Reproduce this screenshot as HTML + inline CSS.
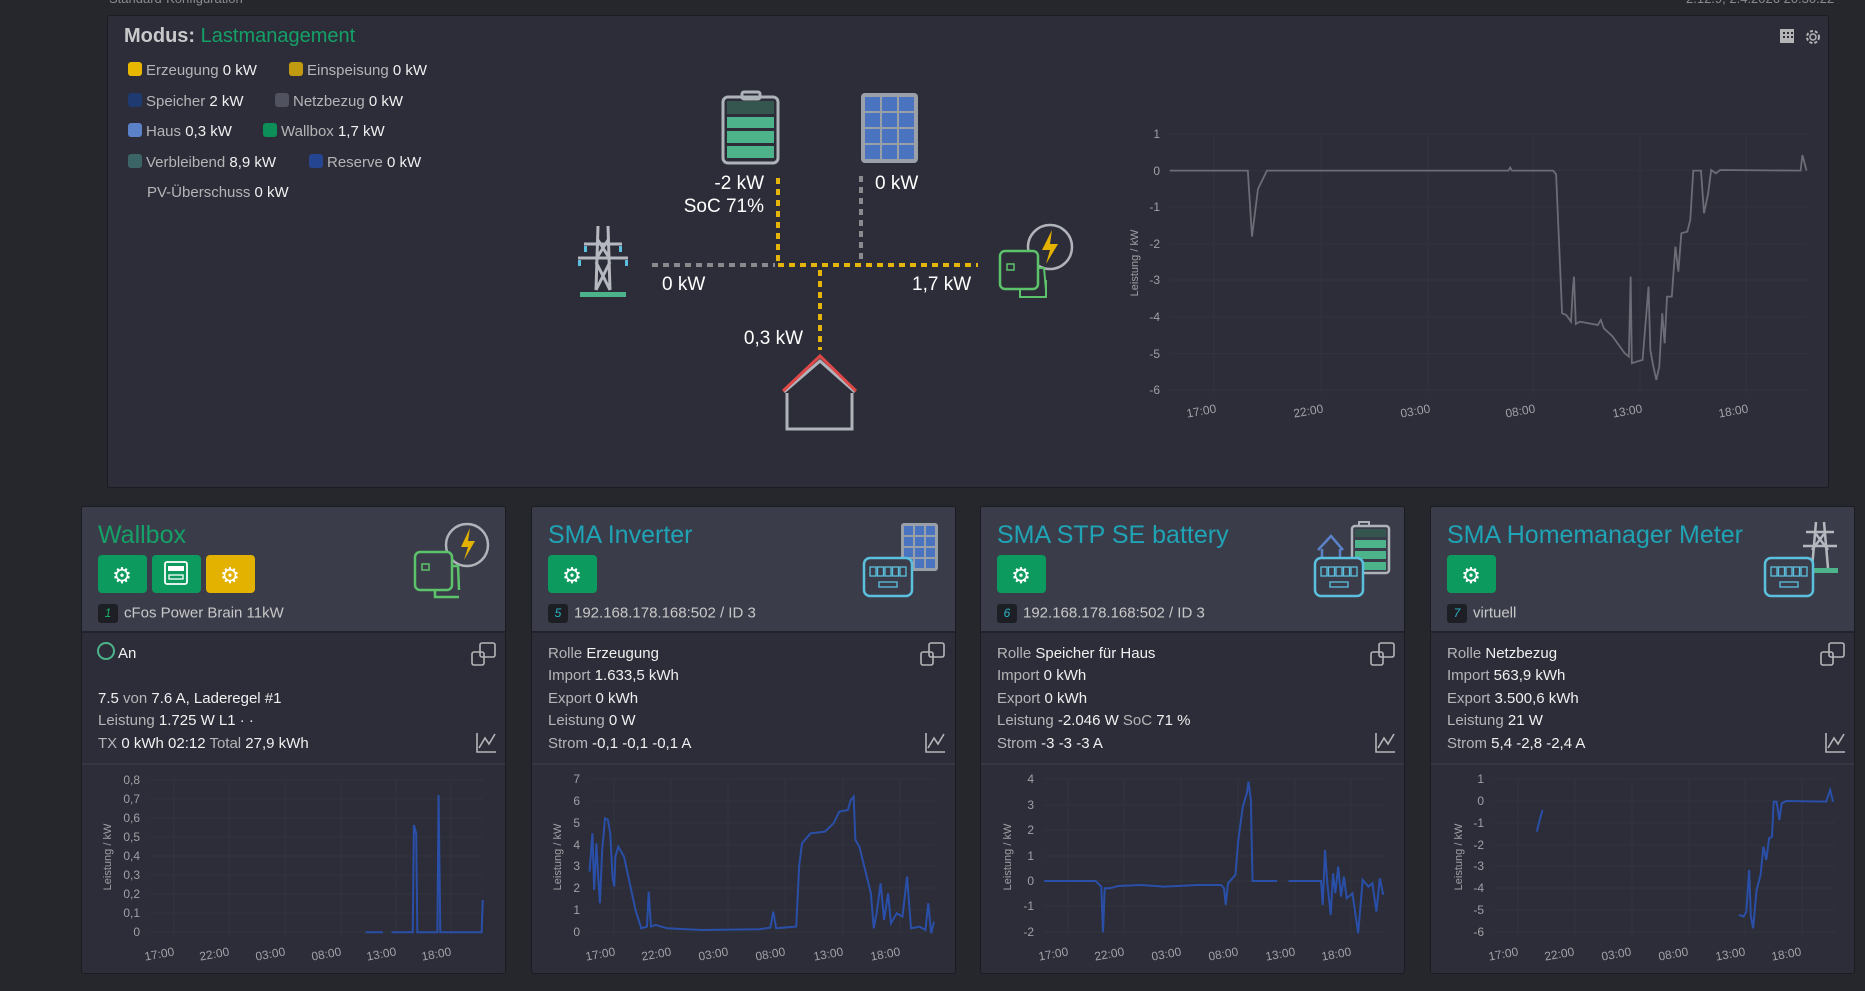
<!DOCTYPE html>
<html><head><meta charset="utf-8"><style>
*{margin:0;padding:0;box-sizing:border-box}
body{width:1865px;height:991px;background:#25272c;font-family:"Liberation Sans",sans-serif;position:relative;overflow:hidden;color:#e6e6e6}
.a{position:absolute;white-space:nowrap}
.panel{position:absolute;left:107px;top:15px;width:1722px;height:473px;background:#2c2d38;border:1px solid #1b1c21;border-radius:3px}
.card{position:absolute;top:506px;width:425px;height:468px;background:#2c2d38;border:1px solid #1b1c21;border-radius:3px;overflow:hidden}
.hd{position:absolute;left:0;top:0;width:100%;height:126px;background:#3a3d49;border-bottom:2px solid #22232a}
.sep{position:absolute;left:0;top:256px;width:100%;height:2px;background:#353743}
.tt{position:absolute;left:16px;top:14px;font-size:25px;color:#1fa3b5}
.btn{position:absolute;top:48px;width:49px;height:38px;border-radius:4px;background:#0d9a5f}
.dev{position:absolute;left:16px;top:97px;font-size:15px;color:#c8c8c8}
.bd{display:inline-block;width:20px;height:19px;background:#1d1f24;border-radius:3px;color:#2bb3c6;font-size:12px;text-align:center;line-height:19px;margin-right:6px;vertical-align:middle}
.row{position:absolute;left:16px;font-size:15px;color:#f0f0f0}
.row span{color:#b5b5b8}
.lg{position:absolute;font-size:15px;color:#f0f0f0}
.lg span{color:#b5b5b8}
.sq{display:inline-block;width:14px;height:14px;border-radius:3px;margin-right:4px;vertical-align:-1px}
</style></head><body>
<div class="a" style="left:109px;top:-9px;font-size:13px;color:#8a8a90">Standard-Konfiguration</div>
<div class="a" style="left:1686px;top:-9px;font-size:13px;color:#8a8a90">2.12.9, 2.4.2026 20:30:22</div>
<div class="panel"></div>
<div class="a" style="left:124px;top:25px;font-size:20px;color:#c9c9cc;font-weight:bold">Modus: <span style="color:#15a068;font-weight:normal">Lastmanagement</span></div>
<div class="lg" style="left:128px;top:62px"><i class="sq" style="background:#e8b800"></i><span>Erzeugung</span> 0 kW</div>
<div class="lg" style="left:289px;top:62px"><i class="sq" style="background:#c09a10"></i><span>Einspeisung</span> 0 kW</div>
<div class="lg" style="left:128px;top:93px"><i class="sq" style="background:#1e3a70"></i><span>Speicher</span> 2 kW</div>
<div class="lg" style="left:275px;top:93px"><i class="sq" style="background:#505260"></i><span>Netzbezug</span> 0 kW</div>
<div class="lg" style="left:128px;top:123px"><i class="sq" style="background:#5b82c8"></i><span>Haus</span> 0,3 kW</div>
<div class="lg" style="left:263px;top:123px"><i class="sq" style="background:#0d8f5a"></i><span>Wallbox</span> 1,7 kW</div>
<div class="lg" style="left:128px;top:154px"><i class="sq" style="background:#3b6466"></i><span>Verbleibend</span> 8,9 kW</div>
<div class="lg" style="left:309px;top:154px"><i class="sq" style="background:#254590"></i><span>Reserve</span> 0 kW</div>
<div class="lg" style="left:147px;top:184px"><span>PV-Überschuss</span> 0 kW</div>
<div class="a" style="left:700px;top:173px;width:64px;text-align:right;font-size:19px;color:#fff">-2 kW</div>
<div class="a" style="left:664px;top:196px;width:100px;text-align:right;font-size:19px;color:#fff">SoC 71%</div>
<div class="a" style="left:875px;top:173px;font-size:19px;color:#fff">0 kW</div>
<div class="a" style="left:662px;top:274px;font-size:19px;color:#fff">0 kW</div>
<div class="a" style="left:912px;top:274px;font-size:19px;color:#fff">1,7 kW</div>
<div class="a" style="left:723px;top:328px;width:80px;text-align:right;font-size:19px;color:#fff">0,3 kW</div>

<div class="card" style="left:81px"><div class="hd"></div><div class="sep"></div>
<div class="tt" style="color:#15a068">Wallbox</div>
<div class="btn" style="left:16px"></div><div class="btn" style="left:70px"></div><div class="btn" style="left:124px;background:#e3b100"></div>
<div class="dev"><i class="bd" style="color:#1fb06b">1</i>cFos Power Brain 11kW</div>
<div class="row" style="left:36px;top:138px">An</div>
<div class="row" style="top:183px">7.5 <span>von</span> 7.6 A, Laderegel #1</div>
<div class="row" style="top:205px"><span>Leistung</span> 1.725 W L1 · ·</div>
<div class="row" style="top:228px"><span>TX</span> 0 kWh 02:12 <span>Total</span> 27,9 kWh</div>
</div>
<div class="card" style="left:531px"><div class="hd"></div><div class="sep"></div>
<div class="tt">SMA Inverter</div><div class="btn" style="left:16px"></div>
<div class="dev"><i class="bd">5</i>192.168.178.168:502 / ID 3</div>
<div class="row" style="top:138px"><span>Rolle</span> Erzeugung</div>
<div class="row" style="top:160px"><span>Import</span> 1.633,5 kWh</div>
<div class="row" style="top:183px"><span>Export</span> 0 kWh</div>
<div class="row" style="top:205px"><span>Leistung</span> 0 W</div>
<div class="row" style="top:228px"><span>Strom</span> -0,1 -0,1 -0,1 A</div>
</div>
<div class="card" style="left:980px"><div class="hd"></div><div class="sep"></div>
<div class="tt">SMA STP SE battery</div><div class="btn" style="left:16px"></div>
<div class="dev"><i class="bd">6</i>192.168.178.168:502 / ID 3</div>
<div class="row" style="top:138px"><span>Rolle</span> Speicher für Haus</div>
<div class="row" style="top:160px"><span>Import</span> 0 kWh</div>
<div class="row" style="top:183px"><span>Export</span> 0 kWh</div>
<div class="row" style="top:205px"><span>Leistung</span> -2.046 W <span>SoC</span> 71 %</div>
<div class="row" style="top:228px"><span>Strom</span> -3 -3 -3 A</div>
</div>
<div class="card" style="left:1430px"><div class="hd"></div><div class="sep"></div>
<div class="tt">SMA Homemanager Meter</div><div class="btn" style="left:16px"></div>
<div class="dev"><i class="bd">7</i>virtuell</div>
<div class="row" style="top:138px"><span>Rolle</span> Netzbezug</div>
<div class="row" style="top:160px"><span>Import</span> 563,9 kWh</div>
<div class="row" style="top:183px"><span>Export</span> 3.500,6 kWh</div>
<div class="row" style="top:205px"><span>Leistung</span> 21 W</div>
<div class="row" style="top:228px"><span>Strom</span> 5,4 -2,8 -2,4 A</div>
</div>

<svg class="a" style="left:0;top:0" width="1865" height="991" viewBox="0 0 1865 991" font-family="Liberation Sans, sans-serif">
<defs>
<g id="meter"><rect x="0" y="0" width="48" height="38" rx="6" stroke="#5bc0de" stroke-width="2.5" fill="#3a3d49"/>
<g fill="none" stroke="#5bc0de" stroke-width="1.3"><rect x="6" y="9" width="6" height="9"/><rect x="13.5" y="9" width="6" height="9"/><rect x="21" y="9" width="6" height="9"/><rect x="28.5" y="9" width="6" height="9"/><rect x="36" y="9" width="6" height="9"/><rect x="15" y="24" width="18" height="5"/></g></g>
</defs>
<g stroke-width="4" fill="none" stroke-dasharray="6 5">
<line x1="778" y1="178" x2="778" y2="264" stroke="#e5b50a"/>
<line x1="861" y1="176" x2="861" y2="262" stroke="#8a8a8e"/>
<line x1="652" y1="265" x2="775" y2="265" stroke="#8a8a8e"/>
<line x1="778" y1="265" x2="978" y2="265" stroke="#e5b50a"/>
<line x1="820" y1="270" x2="820" y2="350" stroke="#e5b50a"/>
</g>
<rect x="742" y="92" width="18" height="7" rx="2" fill="none" stroke="#aeb3ba" stroke-width="3"/>
<rect x="723" y="97" width="55" height="66" rx="5" fill="none" stroke="#aeb3ba" stroke-width="3"/>
<rect x="727" y="101" width="47" height="13" fill="#34564f"/>
<rect x="727" y="117" width="47" height="11" fill="#4cb38a"/>
<rect x="727" y="131" width="47" height="12" fill="#4cb38a"/>
<rect x="727" y="146" width="47" height="12" fill="#4cb38a"/>
<rect x="861" y="93" width="57" height="70" rx="4" fill="#9aa0a8"/>
<g fill="#4a74c0">
<rect x="865" y="97" width="15" height="14"/><rect x="882" y="97" width="15" height="14"/><rect x="899" y="97" width="15" height="14"/>
<rect x="865" y="113" width="15" height="14"/><rect x="882" y="113" width="15" height="14"/><rect x="899" y="113" width="15" height="14"/>
<rect x="865" y="129" width="15" height="14"/><rect x="882" y="129" width="15" height="14"/><rect x="899" y="129" width="15" height="14"/>
<rect x="865" y="145" width="15" height="14"/><rect x="882" y="145" width="15" height="14"/><rect x="899" y="145" width="15" height="14"/>
</g>
<g stroke="#b5b9bf" stroke-width="3" fill="none">
<path d="M598 226 L596 290 M608 226 L610 290 M598 240 L608 256 M608 240 L598 256 M596 262 L610 290 M610 262 L596 290"/>
<path d="M584 244 L622 244 M578 258 L628 258"/>
</g>
<g fill="#5bc0de"><rect x="584" y="246" width="3" height="6"/><rect x="619" y="246" width="3" height="6"/><rect x="578" y="260" width="3" height="6"/><rect x="625" y="260" width="3" height="6"/></g>
<rect x="580" y="292" width="46" height="5" fill="#4cb38a"/>
<path d="M787 393 L787 429 L852 429 L852 393" stroke="#b0b4ba" stroke-width="3" fill="none"/>
<path d="M784 392 L820 361 L855 392" stroke="#b0b4ba" stroke-width="3" fill="none"/>
<path d="M783 391 L820 356 L856 391" stroke="#e04848" stroke-width="3" fill="none"/>
<circle cx="1050" cy="247" r="22" stroke="#b0b4ba" stroke-width="2.5" fill="none"/>
<path d="M1052 230 L1042 250 L1050 250 L1046 264 L1058 244 L1050 244 Z" fill="#e3b100"/>
<rect x="1000" y="251" width="38" height="38" rx="5" stroke="#5cc36a" stroke-width="2.5" fill="#2c2d38"/>
<rect x="1007" y="264" width="7" height="6" stroke="#5cc36a" stroke-width="1.5" fill="none"/>
<path d="M1038 268 L1044 268 L1046 290 M1020 289 L1020 297 L1046 297 L1046 280" stroke="#5cc36a" stroke-width="2" fill="none"/>
<g fill="#b5b5b8"><rect x="1780" y="29" width="14" height="14"/></g>
<g fill="#2c2d38"><rect x="1783" y="32" width="2" height="2"/><rect x="1787" y="32" width="2" height="2"/><rect x="1791" y="32" width="2" height="2"/><rect x="1783" y="36" width="2" height="2"/><rect x="1787" y="36" width="2" height="2"/><rect x="1791" y="36" width="2" height="2"/></g>
<circle cx="1813" cy="37" r="6" stroke="#b5b5b8" stroke-width="2" fill="none" stroke-dasharray="3 2"/><circle cx="1813" cy="37" r="3" stroke="#b5b5b8" stroke-width="1.5" fill="none"/>

<g stroke="#30323d" stroke-width="1">
<line x1="1170" x2="1807" y1="134" y2="134"/><line x1="1170" x2="1807" y1="170.6" y2="170.6"/><line x1="1170" x2="1807" y1="207" y2="207"/><line x1="1170" x2="1807" y1="243.7" y2="243.7"/><line x1="1170" x2="1807" y1="280" y2="280"/><line x1="1170" x2="1807" y1="317" y2="317"/><line x1="1170" x2="1807" y1="353.5" y2="353.5"/><line x1="1170" x2="1807" y1="390" y2="390"/>
<line x1="1214" x2="1214" y1="134" y2="394"/><line x1="1321" x2="1321" y1="134" y2="394"/><line x1="1428" x2="1428" y1="134" y2="394"/><line x1="1533" x2="1533" y1="134" y2="394"/><line x1="1640" x2="1640" y1="134" y2="394"/><line x1="1746" x2="1746" y1="134" y2="394"/>
</g>
<g fill="#a0a0a6" font-size="12" text-anchor="end">
<text x="1160" y="138">1</text><text x="1160" y="175">0</text><text x="1160" y="211">-1</text><text x="1160" y="248">-2</text><text x="1160" y="284">-3</text><text x="1160" y="321">-4</text><text x="1160" y="358">-5</text><text x="1160" y="394">-6</text>
</g>
<g fill="#a0a0a6" font-size="12" text-anchor="middle">
<text transform="translate(1202,415) rotate(-10)">17:00</text><text transform="translate(1309,415) rotate(-10)">22:00</text><text transform="translate(1416,415) rotate(-10)">03:00</text><text transform="translate(1521,415) rotate(-10)">08:00</text><text transform="translate(1628,415) rotate(-10)">13:00</text><text transform="translate(1734,415) rotate(-10)">18:00</text>
<text transform="translate(1138,263) rotate(-90)" font-size="11">Leistung / kW</text>
</g>
<polyline transform="translate(930,0) scale(0.5963,0.3333)" vector-effect="non-scaling-stroke" stroke="#6b6c75" stroke-width="1.8" fill="none" points="402,512 533,512 540,710 550,567 565,512 970,512 973,503 976,512 1045,512 1050,523 1060,940 1067,945 1075,965 1078,870 1080,830 1083,972 1090,965 1120,975 1125,960 1130,985 1145,1010 1165,1060 1172,1070 1175,830 1177,1090 1185,1085 1195,1080 1205,860 1208,1050 1212,1090 1218,1140 1223,1100 1228,940 1232,1030 1236,890 1244,890 1250,740 1255,815 1260,700 1270,695 1275,660 1280,512 1293,512 1298,640 1305,580 1310,510 1318,520 1325,510 1460,512 1463,465 1470,512"/>

<!-- card header icons -->
<g fill="none" stroke-width="2.5">
<circle cx="467" cy="545" r="21" stroke="#b0b4ba"/><path d="M470 528 L461 547 L468 547 L464 560 L475 541 L468 541 Z" fill="#e3b100" stroke="none"/>
<rect x="415" y="552" width="37" height="38" rx="5" stroke="#5cc36a" fill="#3a3d49"/>
<rect x="422" y="564" width="7" height="6" stroke="#5cc36a" stroke-width="1.5"/>
<path d="M452 566 L458 566 L459 590 M435 590 L435 597 L459 597" stroke="#5cc36a"/>
</g>
<rect x="901" y="523" width="37" height="48" rx="3" fill="#9aa0a8"/>
<g fill="#4a74c0"><rect x="904" y="526" width="9" height="9"/><rect x="915" y="526" width="9" height="9"/><rect x="926" y="526" width="9" height="9"/><rect x="904" y="537" width="9" height="9"/><rect x="915" y="537" width="9" height="9"/><rect x="926" y="537" width="9" height="9"/><rect x="904" y="548" width="9" height="9"/><rect x="915" y="548" width="9" height="9"/><rect x="926" y="548" width="9" height="9"/><rect x="904" y="559" width="9" height="9"/><rect x="915" y="559" width="9" height="9"/><rect x="926" y="559" width="9" height="9"/></g>
<use href="#meter" x="864" y="558"/>
<rect x="1359" y="522" width="10" height="5" fill="none" stroke="#aeb3ba" stroke-width="2"/>
<rect x="1352" y="526" width="37" height="47" rx="3" fill="#3a3d49" stroke="#aeb3ba" stroke-width="2.5"/>
<rect x="1355" y="529" width="31" height="8" fill="#34564f"/>
<rect x="1355" y="540" width="31" height="8" fill="#4cb38a"/><rect x="1355" y="551" width="31" height="8" fill="#4cb38a"/><rect x="1355" y="562" width="31" height="8" fill="#4cb38a"/>
<path d="M1318 550 L1331 536 L1343 550 M1322 549 L1322 559 L1340 559 L1340 549" stroke="#5b82c8" stroke-width="2.5" fill="none"/>
<use href="#meter" x="1315" y="558"/>
<g stroke="#b5b9bf" stroke-width="2.5" fill="none">
<path d="M1816 522 L1812 568 M1824 522 L1828 568 M1816 534 L1828 550 M1824 534 L1812 550 M1806 532 L1834 532 M1803 546 L1837 546"/>
</g>
<rect x="1812" y="568" width="26" height="5" fill="#4cb38a"/>
<use href="#meter" x="1765" y="558"/>
<g fill="none" stroke-width="2"><circle cx="106" cy="651" r="8" stroke="#4cb38a"/></g>
<g fill="none" stroke="#b5b5b8" stroke-width="1.6">
<rect x="472" y="652" width="12" height="13" rx="2"/><rect x="480" y="643" width="15" height="14" rx="2"/>
<rect x="921" y="652" width="12" height="13" rx="2"/><rect x="929" y="643" width="15" height="14" rx="2"/>
<rect x="1371" y="652" width="12" height="13" rx="2"/><rect x="1379" y="643" width="15" height="14" rx="2"/>
<rect x="1821" y="652" width="12" height="13" rx="2"/><rect x="1829" y="643" width="15" height="14" rx="2"/>
<path d="M477 733 L477 752 L496 752 M479 748 L485 738 L489 744 L495 734"/>
<path d="M926 733 L926 752 L945 752 M928 748 L934 738 L938 744 L944 734"/>
<path d="M1376 733 L1376 752 L1395 752 M1378 748 L1384 738 L1388 744 L1394 734"/>
<path d="M1826 733 L1826 752 L1845 752 M1828 748 L1834 738 L1838 744 L1844 734"/>
</g>
<g fill="#fff" font-size="22" text-anchor="middle">
<text x="122" y="583">⚙</text><text x="230" y="583">⚙</text>
<text x="572" y="583">⚙</text><text x="1021" y="583">⚙</text><text x="1471" y="583">⚙</text>
</g>
<rect x="165" y="562" width="22" height="22" rx="2" fill="none" stroke="#fff" stroke-width="1.8"/>
<rect x="169" y="575" width="14" height="4" fill="none" stroke="#fff" stroke-width="1.3"/>
<rect x="168" y="566" width="16" height="5" fill="#fff"/>

<g stroke="#30323d" stroke-width="1">
<path d="M150 932H483M150 913H483M150 894H483M150 875H483M150 856H483M150 837H483M150 818H483M150 799H483M150 780H483 M174 780V936M229 780V936M285 780V936M341 780V936M396 780V936M451 780V936"/>
<path d="M590 932H934M590 910H934M590 888H934M590 866H934M590 845H934M590 823H934M590 801H934M590 779H934 M614 779V936M671 779V936M728 779V936M785 779V936M843 779V936M900 779V936"/>
<path d="M1044 779H1384M1044 805H1384M1044 830H1384M1044 856H1384M1044 881H1384M1044 906H1384M1044 932H1384 M1068 779V936M1124 779V936M1181 779V936M1238 779V936M1295 779V936M1351 779V936"/>
<path d="M1494 779H1835M1494 801H1835M1494 823H1835M1494 845H1835M1494 866H1835M1494 888H1835M1494 910H1835M1494 932H1835 M1518 779V936M1575 779V936M1632 779V936M1689 779V936M1745 779V936M1802 779V936"/>
</g>
<g fill="#a0a0a6" font-size="12" text-anchor="end">
<text x="140" y="936">0</text><text x="140" y="917">0,1</text><text x="140" y="898">0,2</text><text x="140" y="879">0,3</text><text x="140" y="860">0,4</text><text x="140" y="841">0,5</text><text x="140" y="822">0,6</text><text x="140" y="803">0,7</text><text x="140" y="784">0,8</text>
<text x="580" y="936">0</text><text x="580" y="914">1</text><text x="580" y="892">2</text><text x="580" y="870">3</text><text x="580" y="849">4</text><text x="580" y="827">5</text><text x="580" y="805">6</text><text x="580" y="783">7</text>
<text x="1034" y="783">4</text><text x="1034" y="809">3</text><text x="1034" y="834">2</text><text x="1034" y="860">1</text><text x="1034" y="885">0</text><text x="1034" y="910">-1</text><text x="1034" y="936">-2</text>
<text x="1484" y="783">1</text><text x="1484" y="805">0</text><text x="1484" y="827">-1</text><text x="1484" y="849">-2</text><text x="1484" y="870">-3</text><text x="1484" y="892">-4</text><text x="1484" y="914">-5</text><text x="1484" y="936">-6</text>
</g>
<g fill="#a0a0a6" font-size="12" text-anchor="middle">
<g transform="translate(0,958)">
<text transform="translate(160,0) rotate(-10)">17:00</text><text transform="translate(215,0) rotate(-10)">22:00</text><text transform="translate(271,0) rotate(-10)">03:00</text><text transform="translate(327,0) rotate(-10)">08:00</text><text transform="translate(382,0) rotate(-10)">13:00</text><text transform="translate(437,0) rotate(-10)">18:00</text>
<text transform="translate(601,0) rotate(-10)">17:00</text><text transform="translate(657,0) rotate(-10)">22:00</text><text transform="translate(714,0) rotate(-10)">03:00</text><text transform="translate(771,0) rotate(-10)">08:00</text><text transform="translate(829,0) rotate(-10)">13:00</text><text transform="translate(886,0) rotate(-10)">18:00</text>
<text transform="translate(1054,0) rotate(-10)">17:00</text><text transform="translate(1110,0) rotate(-10)">22:00</text><text transform="translate(1167,0) rotate(-10)">03:00</text><text transform="translate(1224,0) rotate(-10)">08:00</text><text transform="translate(1281,0) rotate(-10)">13:00</text><text transform="translate(1337,0) rotate(-10)">18:00</text>
<text transform="translate(1504,0) rotate(-10)">17:00</text><text transform="translate(1560,0) rotate(-10)">22:00</text><text transform="translate(1617,0) rotate(-10)">03:00</text><text transform="translate(1674,0) rotate(-10)">08:00</text><text transform="translate(1731,0) rotate(-10)">13:00</text><text transform="translate(1787,0) rotate(-10)">18:00</text>
</g>
<text transform="translate(111,857) rotate(-90)" font-size="11">Leistung / kW</text>
<text transform="translate(561,857) rotate(-90)" font-size="11">Leistung / kW</text>
<text transform="translate(1011,857) rotate(-90)" font-size="11">Leistung / kW</text>
<text transform="translate(1462,857) rotate(-90)" font-size="11">Leistung / kW</text>
</g>
<g fill="none" stroke="#2a4fa8" stroke-width="2">
<g transform="translate(70,500) scale(0.5741,0.3333)">
<polyline vector-effect="non-scaling-stroke" points="515,1297 545,1297"/>
<polyline vector-effect="non-scaling-stroke" points="560,1297 597,1297 599,975 603,1000 605,1297 640,1297 642,885 645,1297 717,1297 719,1200"/>
<polyline vector-effect="non-scaling-stroke" points="905,1115 910,1000 913,1170 917,1030 920,1130 923,1210 927,1050 932,955 937,960 941,1000 945,1130 948,1160 950,1070 955,1040 965,1070 975,1150 985,1230 995,1285 1005,1280 1008,1175 1012,1280 1020,1275 1040,1285 1100,1290 1200,1288 1220,1283 1225,1235 1230,1285 1265,1280 1270,1100 1275,1030 1290,1000 1315,995 1330,970 1340,935 1355,930 1360,900 1365,890 1368,1020 1375,1040 1385,1110 1395,1180 1400,1285 1405,1240 1412,1150 1418,1260 1425,1180 1430,1270 1440,1240 1450,1250 1458,1130 1465,1285 1480,1280 1490,1290 1495,1210 1500,1300 1505,1265"/>
</g>
<g transform="translate(970,500) scale(0.5708,0.3333)">
<polyline vector-effect="non-scaling-stroke" points="130,1143 220,1143 230,1160 233,1297 236,1165 245,1165 260,1158 300,1155 340,1160 400,1155 440,1155 445,1165 448,1215 452,1150 465,1125 470,1020 478,920 485,880 488,845 492,900 495,1143 538,1143"/>
<polyline vector-effect="non-scaling-stroke" points="558,1143 615,1143 618,1215 622,1050 626,1150 632,1245 636,1120 640,1180 645,1100 650,1190 655,1130 660,1195 670,1180 680,1300 688,1140 698,1160 705,1150 712,1235 718,1135 724,1185"/>
<polyline vector-effect="non-scaling-stroke" points="993,995 998,960 1003,930"/>
<polyline vector-effect="non-scaling-stroke" points="1347,1245 1355,1250 1360,1235 1365,1110 1368,1250 1372,1285 1378,1170 1385,1125 1390,1040 1395,1080 1400,1015 1405,1010 1408,905 1413,905 1418,960 1422,910 1430,903 1500,905 1507,870 1512,905"/>
</g>
</g>
</svg>
</body></html>
